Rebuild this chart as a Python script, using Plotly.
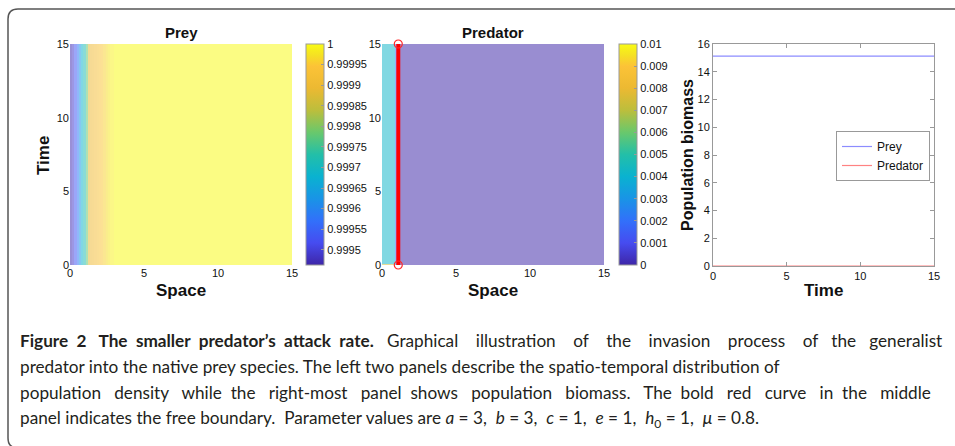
import plotly.graph_objects as go

W, H = 955, 446

# ---------------- data ----------------
# Prey density profile (constant in time), read at space-cell edges
prey_space_edges = [0, 0.15, 0.3, 0.45, 0.6, 0.75, 0.9, 1.05, 1.2, 1.35, 1.5, 1.65,
                    1.8, 1.95, 2.1, 2.25, 2.4, 2.55, 2.7, 3.0, 15]
prey_profile = [0.99947, 0.99949, 0.99953, 0.99958, 0.99963, 0.99968, 0.99972, 0.99978,
                0.99988, 0.99990, 0.99991, 0.99992, 0.99993, 0.99994, 0.99995, 0.99996,
                0.99997, 0.99998, 0.99999, 1.0]
prey_time_edges = [0, 15]

# Predator density: initial row and later rows
pred_space_edges = [0, 0.85, 1.05, 15]
pred_time_edges = [0, 0.1, 15]
pred_initial = [0.0075, 0.003, 0.0]
pred_later = [0.0042, 0.0018, 0.0]

# Free boundary h(t)
boundary_time = [0, 15]
boundary_pos = [1.1, 1.1]

# Population biomass
biomass_time = [0, 15]
biomass_prey = [15.13, 15.13]
biomass_pred = [0.0, 0.0]

prey_cbar_vals = [1, 0.99995, 0.9999, 0.99985, 0.9998, 0.99975, 0.9997, 0.99965,
                  0.9996, 0.99955, 0.9995]
prey_cbar_text = ["1", "0.99995", "0.9999", "0.99985", "0.9998", "0.99975", "0.9997",
                  "0.99965", "0.9996", "0.99955", "0.9995"]
pred_cbar_vals = [0, 0.001, 0.002, 0.003, 0.004, 0.005, 0.006, 0.007, 0.008, 0.009, 0.01]
pred_cbar_text = ["0", "0.001", "0.002", "0.003", "0.004", "0.005", "0.006", "0.007",
                  "0.008", "0.009", "0.01"]

caption_lines = [
    "<b>Figure  2   The  smaller  predator’s  attack  rate.</b>   Graphical    illustration    of    the    invasion    process    of   the   generalist",
    "predator into the native prey species. The left two panels describe the spatio-temporal distribution of",
    "population   density   while  the   right-most   panel  shows   population   biomass.   The  bold   red   curve   in  the   middle",
    "panel indicates the free boundary.  Parameter values are <i>a</i> = 3,  <i>b</i> = 3,  <i>c</i> = 1,  <i>e</i> = 1,  <i>h</i><sub>0</sub> = 1,  <i>μ</i> = 0.8.",
]

# ---------------- styling ----------------
parula = [
    [0.0, "rgb(62,38,168)"], [0.1, "rgb(70,76,240)"], [0.2, "rgb(50,112,250)"],
    [0.3, "rgb(25,148,230)"], [0.4, "rgb(10,178,208)"], [0.5, "rgb(35,191,168)"],
    [0.6, "rgb(105,200,108)"], [0.7, "rgb(188,190,60)"], [0.8, "rgb(236,185,50)"],
    [0.9, "rgb(252,195,55)"], [0.95, "rgb(245,225,35)"], [1.0, "rgb(249,251,20)"],
]
FONT = "Liberation Sans, Arial, sans-serif"
CAP_FONT = "Lato, sans-serif"


def px_x(x):
    return x / W


def px_y(y):
    return 1 - y / H


fig = go.Figure()

cb_common = dict(thickness=18, thicknessmode="pixels", len=221, lenmode="pixels",
                 y=px_y(154.5), yanchor="middle", xanchor="left", xpad=0, ypad=0,
                 outlinecolor="#999999", outlinewidth=1, ticks="inside", ticklen=3,
                 tickcolor="#999999", tickfont=dict(family=FONT, size=11, color="#111"))

fig.add_trace(go.Heatmap(
    x=prey_space_edges, y=prey_time_edges, z=[prey_profile],
    zmin=0.999463, zmax=1.0, colorscale=parula, opacity=0.52,
    colorbar=dict(x=px_x(306), tickvals=prey_cbar_vals, ticktext=prey_cbar_text, **cb_common),
    xaxis="x", yaxis="y", hoverinfo="skip"))

fig.add_trace(go.Heatmap(
    x=pred_space_edges, y=pred_time_edges, z=[pred_initial, pred_later],
    zmin=0, zmax=0.01, colorscale=parula, opacity=0.52,
    colorbar=dict(x=px_x(619), tickvals=pred_cbar_vals, ticktext=pred_cbar_text, **cb_common),
    xaxis="x2", yaxis="y2", hoverinfo="skip"))

fig.add_trace(go.Scatter(
    x=boundary_pos, y=boundary_time, mode="lines+markers",
    line=dict(color="rgb(255,0,0)", width=4),
    marker=dict(symbol="circle-open", size=8, color="rgb(255,40,40)", line=dict(width=1.2)),
    xaxis="x2", yaxis="y2", showlegend=False, cliponaxis=False))

fig.add_trace(go.Scatter(
    x=biomass_time, y=biomass_prey, mode="lines", name="Prey",
    line=dict(color="rgb(140,140,255)", width=1.2), xaxis="x3", yaxis="y3"))
fig.add_trace(go.Scatter(
    x=biomass_time, y=biomass_pred, mode="lines", name="Predator",
    line=dict(color="rgb(255,130,130)", width=1.2), xaxis="x3", yaxis="y3"))

heat_ax = dict(range=[0, 15], tickvals=[0, 5, 10, 15], showgrid=False, zeroline=False,
               showline=False, ticks="", tickfont=dict(family=FONT, size=11, color="#111"))
line_ax = dict(showgrid=False, zeroline=False, showline=True, mirror="ticks",
               linecolor="#999999", linewidth=1, ticks="inside", ticklen=4,
               tickcolor="#999999", tickfont=dict(family=FONT, size=11, color="#111"))

ydom = [px_y(265), px_y(44)]
fig.update_layout(
    width=W, height=H, margin=dict(l=0, r=0, t=0, b=0, autoexpand=False),
    paper_bgcolor="white", plot_bgcolor="white",
    xaxis=dict(domain=[px_x(70), px_x(292)], anchor="y", **heat_ax),
    yaxis=dict(domain=ydom, anchor="x", **heat_ax),
    xaxis2=dict(domain=[px_x(382), px_x(604)], anchor="y2", **heat_ax),
    yaxis2=dict(domain=ydom, anchor="x2", **heat_ax),
    xaxis3=dict(domain=[px_x(713), px_x(934)], anchor="y3", range=[0, 15],
                tickvals=[0, 5, 10, 15], **line_ax),
    yaxis3=dict(domain=[px_y(266), px_y(44)], anchor="x3", range=[0, 16],
                tickvals=[0, 2, 4, 6, 8, 10, 12, 14, 16], **line_ax),
    legend=dict(x=px_x(836), y=px_y(131), xanchor="left", yanchor="top",
                bordercolor="#999999", borderwidth=1, bgcolor="white",
                font=dict(family=FONT, size=12, color="#111"), tracegroupgap=0,
                itemwidth=30),
    showlegend=True,
)

ann = []


def label(text, x, y, size=16, angle=0):
    ann.append(dict(text=f"<b>{text}</b>", x=px_x(x), y=px_y(y), xref="paper", yref="paper",
                    showarrow=False, textangle=angle, xanchor="center", yanchor="middle",
                    font=dict(family=FONT, size=size, color="#111")))


label("Prey", 181, 33, 15)
label("Predator", 493, 33, 15)
label("Space", 181, 290, 17)
label("Space", 493, 290, 17)
label("Time", 823, 290, 17)
label("Time", 43, 156, 17, -90)
label("Population biomass", 687, 155, 16, -90)

for i, line in enumerate(caption_lines):
    ann.append(dict(text=line, x=px_x(18), y=px_y(340 + 26.3 * i), xref="paper", yref="paper",
                    showarrow=False, xanchor="left", yanchor="middle", align="left",
                    font=dict(family=CAP_FONT, size=17.2, color="#231f20")))

fig.update_layout(annotations=ann)

# rounded figure frame
x0, y0, y1, r = 8, 9, 448, 10
path = (f"M {px_x(970)} {px_y(y0)} L {px_x(x0 + r)} {px_y(y0)} "
        f"Q {px_x(x0)} {px_y(y0)} {px_x(x0)} {px_y(y0 + r)} "
        f"L {px_x(x0)} {px_y(y1 - r)} Q {px_x(x0)} {px_y(y1)} {px_x(x0 + r)} {px_y(y1)} "
        f"L {px_x(970)} {px_y(y1)}")
fig.add_shape(type="path", path=path, xref="paper", yref="paper",
              line=dict(color="#555555", width=1.5), layer="above")

fig.write_html("out.html", config={"displayModeBar": False},
               post_script="document.body.style.margin='0';document.body.style.overflow='hidden';")
